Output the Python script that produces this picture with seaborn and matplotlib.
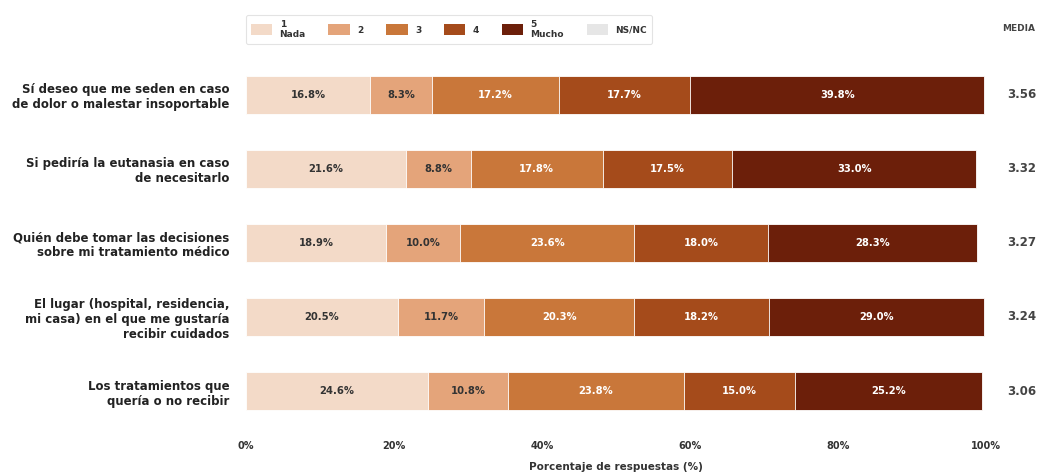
import matplotlib
matplotlib.use("Agg")
import matplotlib.pyplot as plt
from matplotlib.patches import Patch
import numpy as np
import pandas as pd
import seaborn as sns

# Survey items (y axis)
items = [
    "Sí deseo que me seden en caso\nde dolor o malestar insoportable",
    "Si pediría la eutanasia en caso\nde necesitarlo",
    "Quién debe tomar las decisiones\nsobre mi tratamiento médico",
    "El lugar (hospital, residencia,\nmi casa) en el que me gustaría\nrecibir cuidados",
    "Los tratamientos que\nquería o no recibir",
]

# Percentage of answers per scale point
resp_1 = [16.8, 21.6, 18.9, 20.5, 24.6]
resp_2 = [8.3, 8.8, 10.0, 11.7, 10.8]
resp_3 = [17.2, 17.8, 23.6, 20.3, 23.8]
resp_4 = [17.7, 17.5, 18.0, 18.2, 15.0]
resp_5 = [39.8, 33.0, 28.3, 29.0, 25.2]
resp_nsnc = [0.0, 0.0, 0.0, 0.0, 0.0]

# Mean score per item
means = [3.56, 3.32, 3.27, 3.24, 3.06]

legend_labels = ["1\nNada", "2", "3", "4", "5\nMucho", "NS/NC"]
colors = ["#f3dac8", "#e4a47a", "#c9773a", "#a54b1b", "#6c1f0a", "#e6e6e6"]
text_colors = ["#333333", "#333333", "white", "white", "white", "#333333"]
x_ticks = [0, 20, 40, 60, 80, 100]

series = [resp_1, resp_2, resp_3, resp_4, resp_5, resp_nsnc]

sns.set_theme(style="white")
plt.rcParams["font.family"] = ["DejaVu Sans"]

fig = plt.figure(figsize=(10.44, 4.74), dpi=100)
ax = fig.add_axes([0.2356, 0.097, 0.7088, 0.781])

values = np.array(series)           # shape (segments, items)
cum = np.cumsum(values, axis=0)
starts = cum - values

# Draw stacked bars: largest cumulative first, so each lower layer sits on top
for k in range(len(series) - 1, -1, -1):
    df = pd.DataFrame({"item": items, "pct": cum[k]})
    sns.barplot(data=df, x="pct", y="item", orient="h", color=colors[k],
                saturation=1, width=0.52, edgecolor="white", linewidth=0.6,
                ax=ax)

# Segment labels
for k, vals in enumerate(series):
    for i, v in enumerate(vals):
        if v >= 3:
            ax.text(starts[k][i] + v / 2, i, f"{v:.1f}%", ha="center",
                    va="center", fontsize=7.2, fontweight="bold",
                    color=text_colors[k])

# Mean column
for i, m in enumerate(means):
    ax.text(1.048, i, f"{m:.2f}", transform=ax.get_yaxis_transform(),
            ha="center", va="center", fontsize=8.5, fontweight="bold",
            color="#444444")
fig.text(0.976, 0.94, "MEDIA", ha="center", va="center", fontsize=6.5,
         fontweight="bold", color="#444444")

ax.set_xlim(0, 100)
ax.set_ylim(len(items) - 0.5, -0.5)
ax.set_xticks(x_ticks)
ax.set_xticklabels([f"{t}%" for t in x_ticks], fontsize=7, fontweight="bold",
                   color="#333333")
ax.tick_params(axis="x", length=3, color="#999999", pad=6)
ax.tick_params(axis="y", length=0, pad=12)
for lab in ax.get_yticklabels():
    lab.set_fontsize(8.5)
    lab.set_fontweight("bold")
    lab.set_color("#222222")
ax.set_ylabel("")
ax.set_xlabel("Porcentaje de respuestas (%)", fontsize=7.5, fontweight="bold",
              color="#333333", labelpad=8)
sns.despine(ax=ax, left=True, bottom=True)

handles = [Patch(facecolor=c, edgecolor="none") for c in colors]
leg = fig.legend(handles, legend_labels, loc="center", ncol=6,
                 bbox_to_anchor=(0.43, 0.938), frameon=True, fontsize=6.5,
                 handlelength=2.4, handleheight=1.5, columnspacing=2.5,
                 handletextpad=0.8, borderpad=0.5)
leg.get_frame().set_edgecolor("#dddddd")
leg.get_frame().set_linewidth(0.8)
for t in leg.get_texts():
    t.set_fontweight("bold")
    t.set_color("#333333")

fig.savefig("out.png", dpi=100, facecolor="white")
